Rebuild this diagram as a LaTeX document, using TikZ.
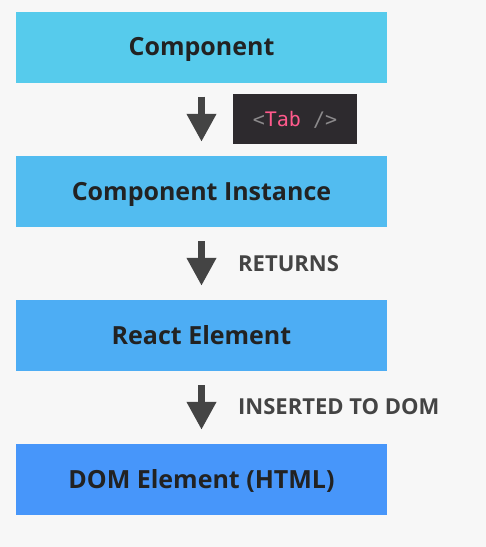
\documentclass[tikz,border=0pt]{standalone}
\usepackage{fontspec}
\setmainfont{Open Sans}
\newfontfamily\monof{DejaVu Sans Mono}
\usetikzlibrary{arrows.meta}
\definecolor{bgc}{HTML}{F7F7F7}
\definecolor{cA}{HTML}{56CBEC}
\definecolor{cB}{HTML}{52BCF0}
\definecolor{cC}{HTML}{4DADF4}
\definecolor{cD}{HTML}{4796FA}
\definecolor{txt}{HTML}{222222}
\definecolor{lbl}{HTML}{444444}
\definecolor{arr}{HTML}{444444}
\definecolor{tabbg}{HTML}{2D2A2E}
\definecolor{tabgray}{HTML}{8C8A8C}
\definecolor{tabpink}{HTML}{FF5A8C}
\tikzset{
  box/.style={rectangle, minimum width=371pt, minimum height=71pt, inner sep=0pt,
    text height=17.9pt, text depth=0pt,
    font=\fontsize{25}{28}\selectfont\bfseries, text=txt},
  flow/.style={draw=arr, line width=7pt, shorten <=14pt, shorten >=14pt,
    -{Triangle[width=28pt,length=28pt]}},
  lab/.style={anchor=west, inner sep=0pt, text height=15.7pt, text depth=0pt,
    font=\fontsize{22}{24}\selectfont\bfseries, text=lbl},
}
\begin{document}
\begin{tikzpicture}[x=1pt,y=-1pt]
\fill[bgc] (0,0) rectangle (486,547);
\useasboundingbox (0,0) rectangle (486,547);
\node[box, fill=cA] (c1) at (201.5,47) {Component};
\node[box, fill=cB] (c2) at (201.5,191.5) {Component Instance};
\node[box, fill=cC] (c3) at (201.5,335.5) {React Element};
\node[box, fill=cD] (c4) at (201.5,479.5) {DOM Element (HTML)};
\draw[flow] (c1) -- (c2);
\draw[flow] (c2) -- (c3);
\draw[flow] (c3) -- (c4);
\node[rectangle, fill=tabbg, minimum width=124pt, minimum height=50pt, inner sep=0pt,
  text height=14.6pt, text depth=0pt,
  font=\monof\fontsize{20}{24}\selectfont] (tab) at (295,119)
  {\textcolor{tabgray}{<}\textcolor{tabpink}{Tab}\textcolor{tabgray}{\ />}};
\node[lab] (ret) at (238,264) {RETURNS};
\node[lab] (ins) at (238,407) {INSERTED TO DOM};
\end{tikzpicture}
\end{document}
